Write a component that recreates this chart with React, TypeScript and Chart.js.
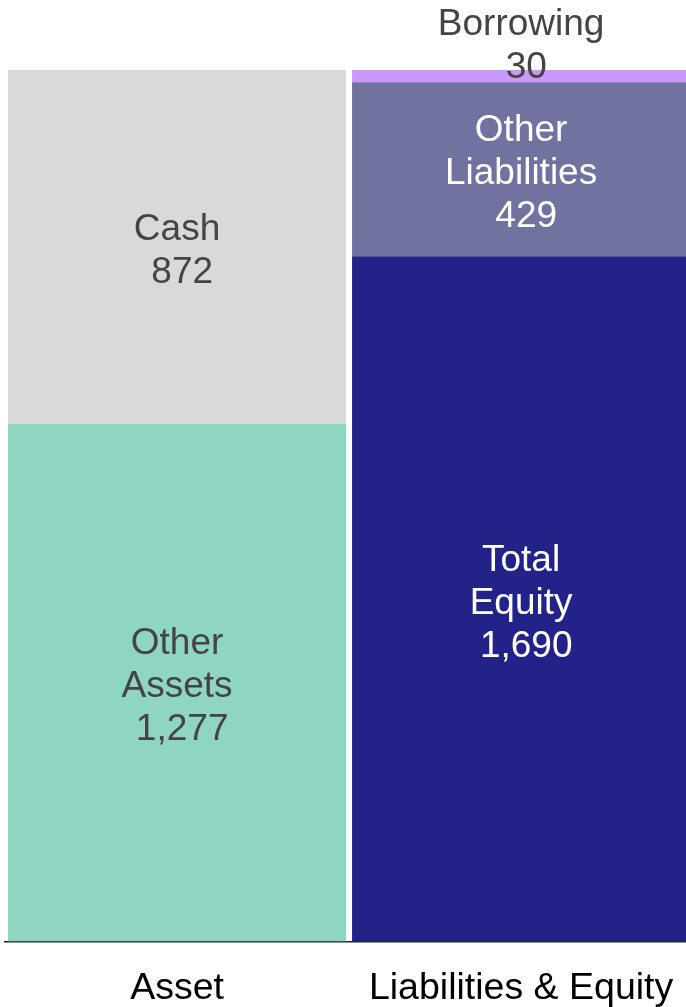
import React, { useEffect, useRef } from "react";
import { Chart, registerables } from "chart.js";

Chart.register(...registerables);

const categories = ["Asset", "Liabilities & Equity"];
const segmentLabels = ["Other\nAssets", "Cash", "Total\nEquity", "Other\nLiabilities", "Borrowing"];
const otherAssets = [1277, null];
const cash = [872, null];
const totalEquity = [null, 1690];
const otherLiabilities = [null, 429];
const borrowing = [null, 30];

const segmentColors = ["#8ED6C2", "#D9D9D9", "#222288", "#7172A0", "#CA98FC"];
const labelColors = ["#444444", "#444444", "#FFFFFF", "#FFFFFF", "#444444"];

const FONT = "Arial, 'Liberation Sans', sans-serif";

const labelPlugin = {
  id: "segmentLabels",
  afterDatasetsDraw(chart: any) {
    const ctx = chart.ctx;
    ctx.save();
    ctx.font = `37px ${FONT}`;
    ctx.textAlign = "center";
    ctx.textBaseline = "middle";
    const lineH = 43;
    chart.data.datasets.forEach((ds: any, di: number) => {
      const meta = chart.getDatasetMeta(di);
      meta.data.forEach((el: any, i: number) => {
        const v = ds.data[i];
        if (v == null) return;
        const lines = [...ds.segLabel.split("\n"), " " + v.toLocaleString("en-US")];
        const top = Math.min(el.y, el.base);
        const bottom = Math.max(el.y, el.base);
        const h = bottom - top;
        let firstCenter: number;
        if (h < 40) {
          firstCenter = top - 7 - (lines.length - 1) * lineH;
        } else {
          const mid = (top + bottom) / 2;
          firstCenter = mid - ((lines.length - 1) * lineH) / 2;
        }
        firstCenter += 4.5;
        ctx.fillStyle = ds.labelColor;
        lines.forEach((ln: string, k: number) => {
          ctx.fillText(ln, el.x, firstCenter + k * lineH);
        });
      });
    });
    ctx.restore();
  },
};

export default function App() {
  const ref = useRef<HTMLCanvasElement>(null);
  useEffect(() => {
    if (!ref.current) return;
    const series = [otherAssets, cash, totalEquity, otherLiabilities, borrowing];
    const chart = new Chart(ref.current, {
      type: "bar",
      data: {
        labels: categories,
        datasets: series.map((d, i) => ({
          label: segmentLabels[i].replace("\n", " "),
          data: d as any,
          backgroundColor: segmentColors[i],
          borderWidth: 0,
          barPercentage: 0.98256,
          categoryPercentage: 1,
          segLabel: segmentLabels[i],
          labelColor: labelColors[i],
        })) as any,
      },
      options: {
        responsive: false,
        animation: false,
        layout: { padding: { top: 70, left: 5, right: 7, bottom: 1 } },
        plugins: { legend: { display: false }, tooltip: { enabled: false } },
        scales: {
          x: {
            stacked: true,
            z: 1,
            grid: { display: false, drawTicks: false },
            border: { display: true, color: "#222222", width: 1.5 },
            ticks: {
              color: "#000000",
              padding: 28,
              font: { family: FONT, size: 37.5, lineHeight: 1 },
            },
          },
          y: {
            stacked: true,
            display: false,
            min: 0,
            max: 2149,
          },
        },
      },
      plugins: [labelPlugin],
    });
    return () => chart.destroy();
  }, []);
  return (
    <div style={{ position: "absolute", left: 0, top: 0, width: 686, height: 1007, overflow: "hidden", background: "#fff" }}>
      <canvas ref={ref} width={703} height={1036} style={{ display: "block" }} />
    </div>
  );
}
